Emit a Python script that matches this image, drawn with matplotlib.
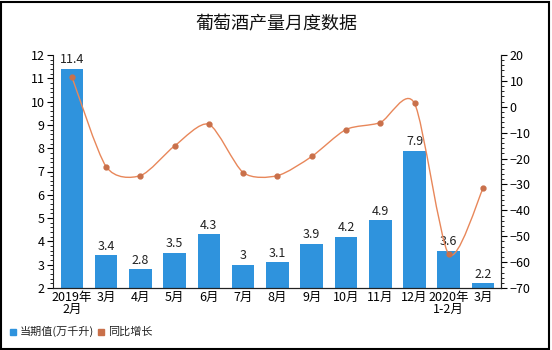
import numpy as np
import matplotlib.pyplot as plt
from matplotlib.path import Path
from matplotlib.patches import PathPatch, Rectangle
from matplotlib.ticker import MultipleLocator

plt.rcParams['font.family'] = ['Noto Sans CJK SC', 'DejaVu Sans']

months = ['2019年\n2月', '3月', '4月', '5月', '6月', '7月', '8月', '9月',
          '10月', '11月', '12月', '2020年\n1-2月', '3月']
output = [11.4, 3.4, 2.8, 3.5, 4.3, 3, 3.1, 3.9, 4.2, 4.9, 7.9, 3.6, 2.2]
growth = [11.6, -23.1, -26.6, -15.1, -6.8, -25.4, -26.6, -19.2, -8.8, -6.1, 1.3, -57.0, -31.5]

bar_color = '#2f93dd'
line_color = '#e8875a'
dot_color = '#c9704a'


def smooth_path(xs, ys, k=0.13):
    # Catmull-Rom style bezier segments through every point
    pts = np.column_stack([xs, ys])
    verts = [pts[0]]
    codes = [Path.MOVETO]
    n = len(pts)
    for i in range(n - 1):
        p0 = pts[max(i - 1, 0)]
        p1 = pts[i]
        p2 = pts[i + 1]
        p3 = pts[min(i + 2, n - 1)]
        c1 = p1 + (p2 - p0) * k
        c2 = p2 - (p3 - p1) * k
        verts += [c1, c2, p2]
        codes += [Path.CURVE4] * 3
    return Path(verts, codes)


fig = plt.figure(figsize=(5.52, 3.5), dpi=100)
ax = fig.add_axes([0.096, 0.177, 0.812, 0.666])
ax2 = ax.twinx()

x = np.arange(len(months))
ax.bar(x, output, width=0.66, color=bar_color, zorder=2)
for xi, v in zip(x, output):
    ax.text(xi, v + 0.12, f'{v:g}', ha='center', va='bottom', fontsize=9, color='#222222')

ax.set_ylim(2, 12)
ax.set_xlim(-0.55, 12.53)
ax.set_xticks(x)
ax.set_xticklabels(months, fontsize=9, linespacing=0.95)
ax.tick_params(axis='x', length=0, pad=2)
ax.yaxis.set_major_locator(MultipleLocator(1))
ax.yaxis.set_minor_locator(MultipleLocator(0.2))
ax.tick_params(axis='y', which='major', length=4, labelsize=9, pad=2)
ax.tick_params(axis='y', which='minor', length=2)

ax2.set_ylim(-70, 20)
ax2.yaxis.set_major_locator(MultipleLocator(10))
ax2.yaxis.set_minor_locator(MultipleLocator(2))
ax2.tick_params(axis='y', which='major', length=4, labelsize=9, pad=2)
ax2.tick_params(axis='y', which='minor', length=2)

ax2.add_patch(PathPatch(smooth_path(x, growth), facecolor='none',
                        edgecolor=line_color, lw=1.0, zorder=3))
ax2.plot(x, growth, 'o', ms=3.5, color=dot_color, zorder=4)

for a in (ax, ax2):
    a.spines['top'].set_visible(False)
    for s in ('left', 'right', 'bottom'):
        a.spines[s].set_color('#222222')
        a.spines[s].set_linewidth(0.8)
ax2.spines['left'].set_visible(False)

fig.text(0.5, 0.93, '葡萄酒产量月度数据', ha='center', va='center', fontsize=13, color='#111111')

# legend
fig.patches.append(Rectangle((0.018, 0.044), 0.011, 0.017, transform=fig.transFigure,
                             color=bar_color, figure=fig))
fig.text(0.035, 0.052, '当期值(万千升)', va='center', fontsize=8, color='#222222')
fig.patches.append(Rectangle((0.178, 0.044), 0.011, 0.017, transform=fig.transFigure,
                             color=dot_color, figure=fig))
fig.text(0.195, 0.052, '同比增长', va='center', fontsize=8, color='#222222')

# outer frame
fig.patches.append(Rectangle((0.002, 0.004), 0.992, 0.99, transform=fig.transFigure,
                             fill=False, edgecolor='black', lw=1.5, figure=fig))

fig.savefig('out.png', dpi=100)
